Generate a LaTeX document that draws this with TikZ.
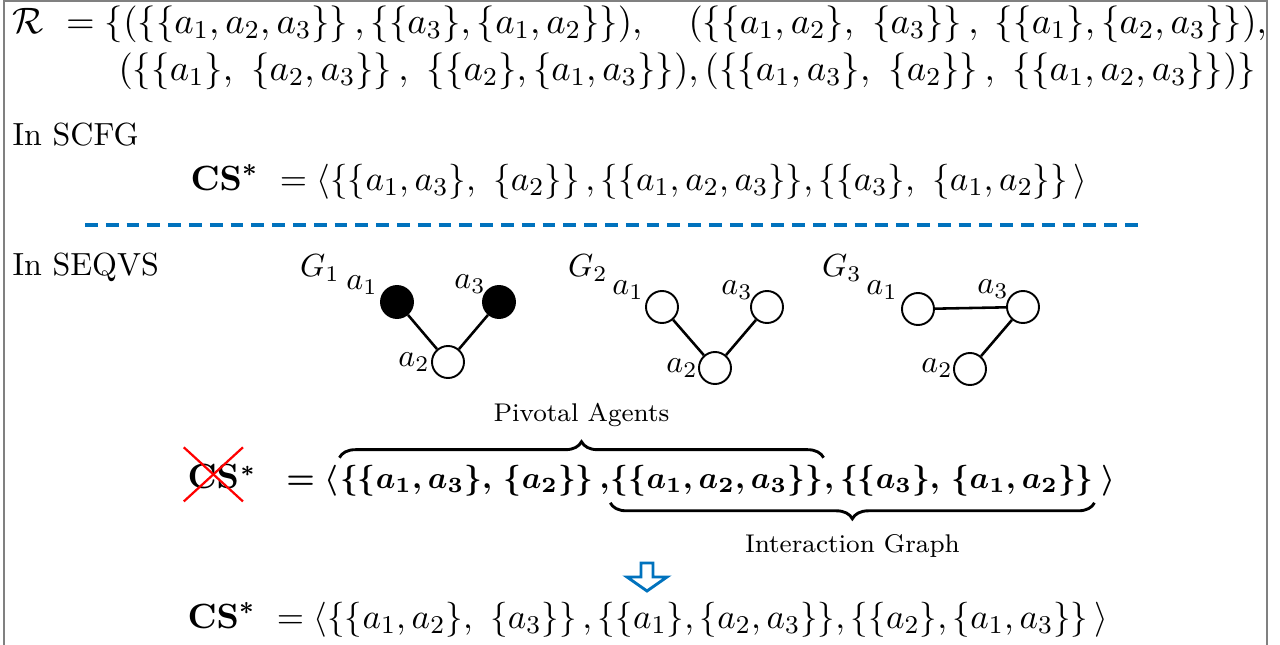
\RequirePackage{fix-cm}
\documentclass[tikz,border=0pt]{standalone}
\usepackage{amsmath,amssymb}
\usepackage{xcolor}
\usetikzlibrary{positioning, decorations.pathreplacing}
\definecolor{framegray}{RGB}{128, 128, 128}
\definecolor{sepblue}{RGB}{0, 114, 189}
\definecolor{crossred}{RGB}{255, 0, 0}

\newcommand{\relsize}{\fontsize{11.5}{14}\selectfont}
\newcommand{\cssize}{\fontsize{10.95}{13.6}\selectfont}

\begin{document}
\begin{tikzpicture}[
    x=0.3125pt, y=-0.3125pt,
    eqline/.style={anchor=base west, inner sep=0pt, font=\cssize},
    part/.style={anchor=base west, inner sep=0pt, font=\fontsize{9.7}{12}\selectfont\boldmath},
    agent/.style={circle, draw=black, fill=white, line width=0.6pt, minimum size=10pt, inner sep=0pt},
    pivot/.style={agent, fill=black},
    alabel/.style={inner sep=0pt},
    edge/.style={line width=0.8pt},
    brace/.style={decorate, decoration={brace, amplitude=5pt, raise=2pt}, line width=0.9pt},
    sepline/.style={sepblue, line width=1pt, dash pattern=on 4pt off 2.5pt},
    frame/.style={framegray, line width=0.7pt}
]
    \useasboundingbox (0,0) rectangle (1280,645);

    % Frame and separator
    \draw[frame] (4,645) -- (4,1) -- (1267,1) -- (1267,645);
    \draw[sepline] (85,225) -- (1140,225);

    % Relation R
    \node[eqline, font=\relsize] (r1a) at (12,33) {$\mathcal{R}\ = \{(\{\{a_1,a_2,a_3\}\}\,,\{\{a_3\},\{a_1,a_2\}\}),$};
    \node[eqline, font=\relsize] (r1b) at (688,33) {$(\{\{a_1,a_2\},\ \{a_3\}\}\,,\;\{\{a_1\},\{a_2,a_3\}\}),$};
    \node[eqline, font=\relsize] (r2) at (118,80) {$(\{\{a_1\},\ \{a_2,a_3\}\}\,,\ \{\{a_2\},\{a_1,a_3\}\}),(\{\{a_1,a_3\},\ \{a_2\}\}\,,\ \{\{a_1,a_2,a_3\}\})\}$};

    % SCFG
    \node[eqline, font=\normalsize] (scfg) at (12,145) {In SCFG};
    \node[eqline] (cs1) at (190,190) {$\mathbf{CS}^{\boldsymbol{*}}\ = \langle\{\{a_1,a_3\},\ \{a_2\}\}\,,\{\{a_1,a_2,a_3\}\},\{\{a_3\},\ \{a_1,a_2\}\}\,\rangle$};

    % SEQVS graphs
    \node[eqline, font=\normalsize] (seqvs) at (12,275) {In SEQVS};

    \node[alabel] (g1) at (320,268) {$G_1$};
    \node[pivot] (g1a1) at (397,302) {};
    \node[pivot] (g1a3) at (499,302) {};
    \node[agent] (g1a2) at (448,362) {};
    \node[alabel] at (362,285) {$a_1$};
    \node[alabel] at (470,284) {$a_3$};
    \node[alabel] at (414,362) {$a_2$};

    \node[alabel] (g2) at (588,268) {$G_2$};
    \node[agent] (g2a1) at (662,307) {};
    \node[agent] (g2a3) at (767,307) {};
    \node[agent] (g2a2) at (715,368) {};
    \node[alabel] at (628,290) {$a_1$};
    \node[alabel] at (737,290) {$a_3$};
    \node[alabel] at (682,368) {$a_2$};

    \node[alabel] (g3) at (842,268) {$G_3$};
    \node[agent] (g3a1) at (918,309) {};
    \node[agent] (g3a3) at (1023,307) {};
    \node[agent] (g3a2) at (970,369) {};
    \node[alabel] at (882,290) {$a_1$};
    \node[alabel] at (993,289) {$a_3$};
    \node[alabel] at (937,368) {$a_2$};

    \draw[edge] (g1a1) -- (g1a2);
    \draw[edge] (g1a3) -- (g1a2);
    \draw[edge] (g2a1) -- (g2a2);
    \draw[edge] (g2a3) -- (g2a2);
    \draw[edge] (g3a1) -- (g3a3);
    \draw[edge] (g3a3) -- (g3a2);

    % SEQVS structure, split so the braces can reach its parts
    \node[part, font=\cssize\boldmath] (cs) at (187,488) {$\mathbf{CS}$};
    \node[part] (eq) at (cs.base east) {${}^{*}\ \;=\langle$};
    \node[part] (p1) at (eq.base east) {$\{\{a_1,a_3\},\,\{a_2\}\}\,,$};
    \node[part] (p2) at (p1.base east) {$\{\{a_1,a_2,a_3\}\}$};
    \node[part] (p3) at (p2.base east) {$,\{\{a_3\},\,\{a_1,a_2\}\}$};
    \node[part] (cl) at (p3.base east) {$\,\rangle$};

    \draw[crossred, line width=0.7pt] ([shift={(-1pt,5pt)}]cs.north west) -- ([shift={(1pt,-4pt)}]cs.south east);
    \draw[crossred, line width=0.7pt] ([shift={(-1pt,-4pt)}]cs.south west) -- ([shift={(1pt,5pt)}]cs.north east);

    \draw[brace] (p1.north west) -- node[above=8pt, font=\footnotesize] {Pivotal Agents} (p2.north east);
    \draw[brace] (p3.south east) -- node[below=8pt, font=\footnotesize] {Interaction Graph} (p2.south west);

    % Result
    \draw[sepblue, line width=0.9pt, line join=miter] (641,563) -- (653,563) -- (653,577) -- (667,577)
        -- (647,591) -- (627,577) -- (641,577) -- cycle;
    \node[eqline] (cs2) at (187,628) {$\mathbf{CS}^{\boldsymbol{*}}\ = \langle\{\{a_1,a_2\},\ \{a_3\}\}\,,\{\{a_1\},\{a_2,a_3\}\},\{\{a_2\},\{a_1,a_3\}\}\,\rangle$};

\end{tikzpicture}
\end{document}
